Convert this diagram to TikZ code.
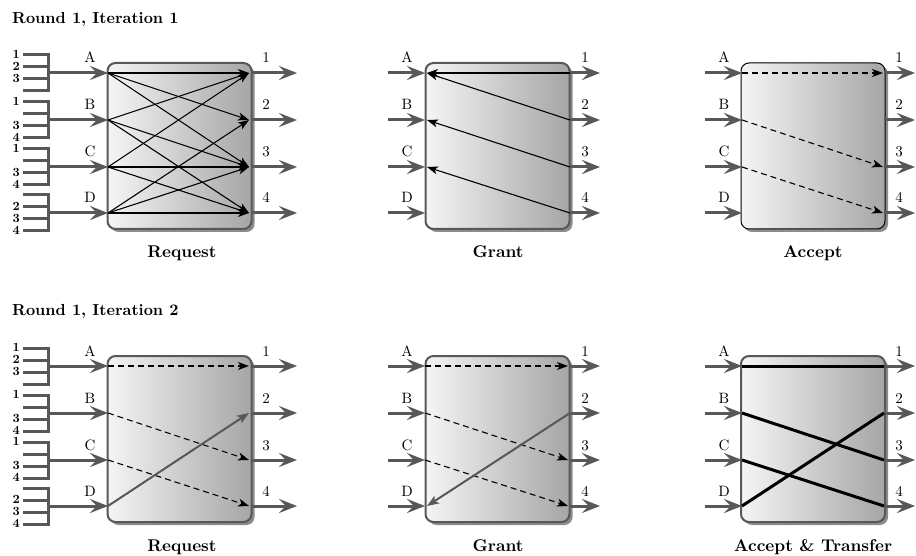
\documentclass[tikz,border=0pt]{standalone}
\usepackage{fontspec}
\setmainfont{lmroman10-regular}[Extension=.otf, BoldFont=lmroman10-bold]
\usetikzlibrary{arrows.meta,shadows}
\definecolor{gcol}{RGB}{88,88,88}
\tikzset{
  box/.style={draw=gcol, line width=2pt, rounded corners=8pt,
    minimum width=144pt, minimum height=166pt, inner sep=0pt,
    left color=black!4, right color=black!35,
    drop shadow={shadow xshift=3pt, shadow yshift=-3pt, opacity=.45, fill=black}},
  blackbox/.style={draw=black, line width=1pt},
  garrow/.style={draw=gcol, line width=3pt, -{Stealth[length=18pt,width=14pt,inset=7pt]}},
  bline/.style={draw=gcol, line width=3pt, line cap=butt, line join=miter},
  req/.style={draw=black, line width=1.1pt, -{Stealth[length=11pt,width=8pt,inset=3pt]}},
  dreq/.style={req, dash pattern=on 6pt off 4pt},
  greq/.style={draw=gcol, line width=2pt, -{Stealth[length=12pt,width=9pt,inset=3pt]}},
  xfer/.style={draw=black, line width=3pt},
  plab/.style={font=\fontsize{15}{18}\selectfont, inner sep=0pt, anchor=base},
  dlab/.style={font=\fontsize{12.5}{14}\selectfont\bfseries, inner sep=0pt, anchor=east},
  caplabel/.style={font=\fontsize{17}{20}\selectfont\bfseries, inner sep=0pt, anchor=base},
  ttl/.style={font=\fontsize{16}{19}\selectfont\bfseries, inner sep=0pt, anchor=base west},
}
% #1 name, #2 box left, #3 box right, #4 input start, #5 output end, #6 row offset, #7 extra box style
\newcommand\mkpanel[7]{%
  \node[box,#7] (#1box) at ({(#2+#3)/2},{146+#6}) {};
  \foreach \p/\yy in {A/73,B/120,C/167,D/213}{
    \coordinate (#1\p) at (#2,\yy+#6);
    \coordinate (#1\p i) at (#4,\yy+#6);
    \draw[garrow] (#1\p i) -- (#1\p);
    \node[plab] (#1l\p) at (#2-18,\yy+#6-10) {\p};
  }
  \foreach \p/\yy in {1/73,2/120,3/167,4/213}{
    \coordinate (#1o\p) at (#3,\yy+#6);
    \coordinate (#1o\p e) at (#5,\yy+#6);
    \draw[garrow] (#1o\p) -- (#1o\p e);
    \node[plab] (#1m\p) at (#3+15,\yy+#6-10) {\p};
  }
}
% bracket: #1 port y, #2..#5 labels
\newcommand\mkbracket[5]{%
  \draw[bline] (23,#1-18) -- (48,#1-18) -- (48,#1+18) -- (23,#1+18);
  \draw[bline] (23,#1-6) -- (48,#1-6);
  \draw[bline] (23,#1+6) -- (48,#1+6);
  \node[dlab] at (20,#1-19) {#2};
  \node[dlab] at (20,#1-7) {#3};
  \node[dlab] at (20,#1+5) {#4};
  \node[dlab] at (20,#1+17) {#5};
}
\begin{document}
\begin{tikzpicture}[x=1pt,y=-1pt]
\useasboundingbox (0,0) rectangle (916,556);
\fill[white] (0,0) rectangle (916,556);

\node[ttl] (t1) at (12,24) {Round 1, Iteration 1};
\node[ttl] (t2) at (12,316) {Round 1, Iteration 2};

% ---------- Row 1 ----------
\mkpanel{ta}{108}{251}{48}{297}{0}{}
\mkpanel{tb}{425}{570}{388}{600}{0}{}
\mkpanel{tc}{742}{884}{705}{915}{0}{blackbox}
\mkbracket{73}{1}{2}{3}{}
\mkbracket{120}{1}{}{3}{4}
\mkbracket{167}{1}{}{3}{4}
\mkbracket{213}{}{2}{3}{4}

\foreach \a/\b in {A/1,A/2,A/3,B/1,B/3,B/4,C/1,C/3,C/4,D/2,D/3,D/4}
  \draw[req] (ta\a) -- ([xshift=-2pt]tao\b);
\foreach \b/\a in {1/A,2/A,3/B,4/C}
  \draw[req] (tbo\b) -- ([xshift=2pt]tb\a);
\foreach \a/\b in {A/1,B/3,C/4}
  \draw[dreq] (tc\a) -- ([xshift=-1pt]tco\b);

\node[caplabel] (c1) at (182,258) {Request};
\node[caplabel] (c2) at (498,258) {Grant};
\node[caplabel] (c3) at (813,258) {Accept};

% ---------- Row 2 ----------
\mkpanel{ba}{108}{251}{48}{297}{293}{}
\mkpanel{bb}{425}{570}{388}{600}{293}{}
\mkpanel{bc}{742}{884}{705}{915}{293}{}
\mkbracket{366}{1}{2}{3}{}
\mkbracket{413}{1}{}{3}{4}
\mkbracket{460}{1}{}{3}{4}
\mkbracket{506}{}{2}{3}{4}

\foreach \a/\b in {A/1,B/3,C/4}
  \draw[dreq] (ba\a) -- ([xshift=-2pt]bao\b);
\draw[greq] (baD) -- ([xshift=-2pt]bao2);
\foreach \a/\b in {A/1,B/3,C/4}
  \draw[dreq] (bb\a) -- ([xshift=-2pt]bbo\b);
\draw[greq] (bbo2) -- ([xshift=2pt]bbD);
\foreach \a/\b in {A/1,B/3,C/4,D/2}
  \draw[xfer] (bc\a) -- (bco\b);

\node[caplabel] (c4) at (182,551) {Request};
\node[caplabel] (c5) at (498,551) {Grant};
\node[caplabel] (c6) at (813,551) {Accept \& Transfer};
\end{tikzpicture}
\end{document}
